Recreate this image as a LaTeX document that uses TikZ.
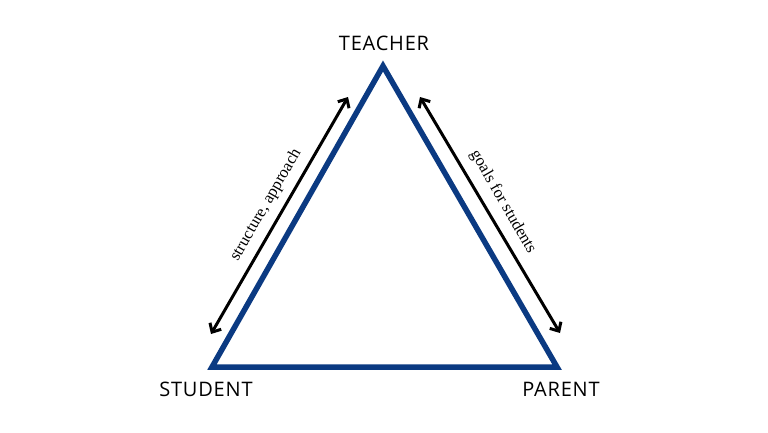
\documentclass[tikz,border=0pt]{standalone}
\usepackage{fontspec}
\setmainfont{Liberation Serif}
\newfontfamily\lab[LetterSpace=4]{Open Sans}
\usetikzlibrary{arrows.meta}
\definecolor{tblue}{HTML}{0B3A82}
\begin{document}
\begin{tikzpicture}[x=1pt,y=-1pt,
  vlabel/.style={font=\lab\fontsize{20}{24}\selectfont},
  alabel/.style={font=\fontsize{16.5}{19}\selectfont},
  rel/.style={line width=3pt,{Straight Barb[length=7pt,width=13pt]}-{Straight Barb[length=7pt,width=13pt]}}]
\useasboundingbox[fill=white] (0,0) rectangle (768,432);
\coordinate (T) at (383,66);
\coordinate (S) at (212,367);
\coordinate (P) at (557,367);
\draw[tblue,line width=5.5pt,line join=miter] (T) -- (S) -- (P) -- cycle;
\node[vlabel] (tl) at (384,43) {TEACHER};
\node[vlabel] (sl) at (206,389) {STUDENT};
\node[vlabel] (pl) at (561,389) {PARENT};
\coordinate (a1) at (348,97);
\coordinate (a2) at (211,334);
\coordinate (b1) at (420,97);
\coordinate (b2) at (560,333);
\draw[rel] (a1) -- (a2);
\draw[rel] (b1) -- (b2);
\node[alabel,rotate=60] (l1) at (266,205) {structure, approach};
\node[alabel,rotate=-60] (l2) at (503,202) {goals for students};
\end{tikzpicture}
\end{document}
